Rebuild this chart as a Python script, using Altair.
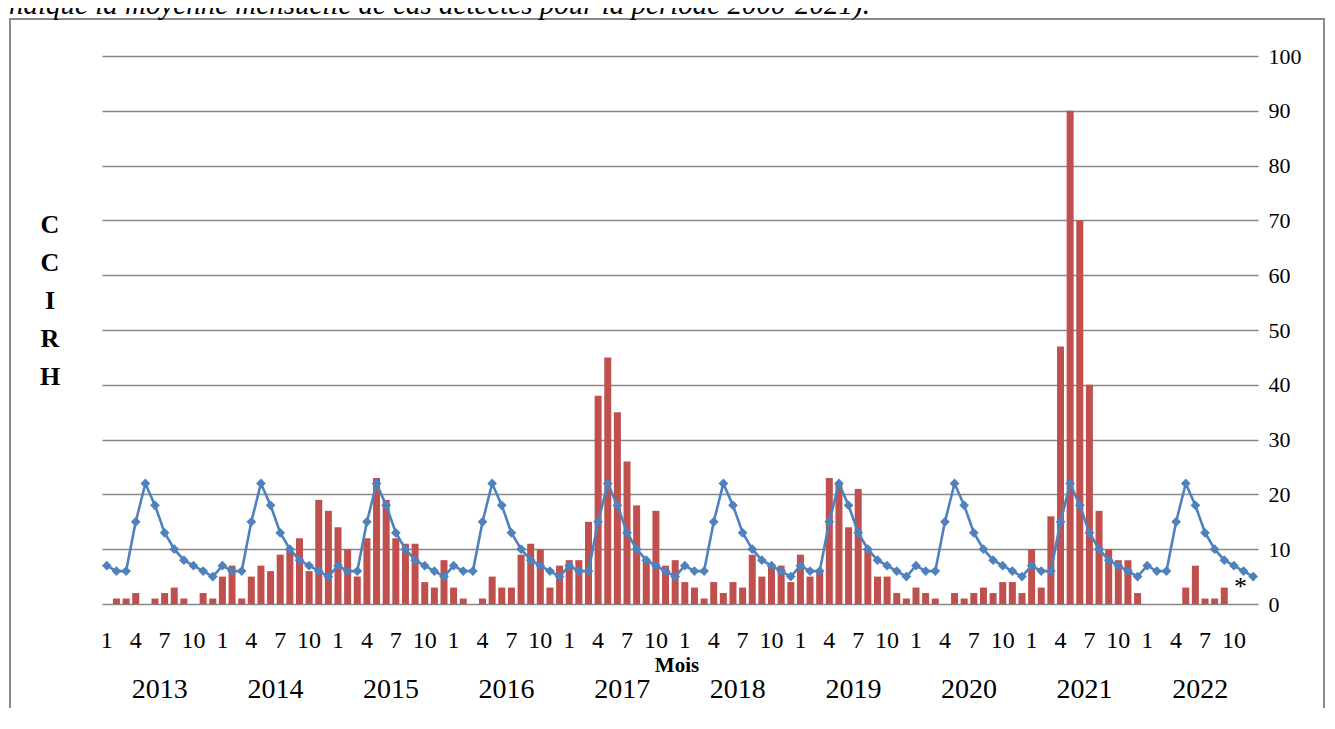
import altair as alt
import pandas as pd

# ---- data ----
years = [2013, 2014, 2015, 2016, 2017, 2018, 2019, 2020, 2021, 2022]
cases_2013 = [0, 1, 1, 2, 0, 1, 2, 3, 1, 0, 2, 1]
cases_2014 = [5, 7, 1, 5, 7, 6, 9, 10, 12, 6, 19, 17]
cases_2015 = [14, 10, 5, 12, 23, 19, 12, 11, 11, 4, 3, 8]
cases_2016 = [3, 1, 0, 1, 5, 3, 3, 9, 11, 10, 3, 7]
cases_2017 = [8, 8, 15, 38, 45, 35, 26, 18, 8, 17, 7, 8]
cases_2018 = [4, 3, 1, 4, 2, 4, 3, 9, 5, 7, 7, 4]
cases_2019 = [9, 5, 6, 23, 22, 14, 21, 10, 5, 5, 2, 1]
cases_2020 = [3, 2, 1, 0, 2, 1, 2, 3, 2, 4, 4, 2]
cases_2021 = [10, 3, 16, 47, 90, 70, 40, 17, 10, 8, 8, 2]
cases_2022 = [0, 0, 0, 0, 3, 7, 1, 1, 3, 0, 0, 0]
monthly_mean = [7, 6, 6, 15, 22, 18, 13, 10, 8, 7, 6, 5]
y_ticks = [0, 10, 20, 30, 40, 50, 60, 70, 80, 90, 100]
side_letters = ["C", "C", "I", "R", "H"]
x_title = "Mois"
caption = "indique la moyenne mensuelle de cas détectés pour la période 2000-2021)."
star_text = "*"

all_cases = [cases_2013, cases_2014, cases_2015, cases_2016, cases_2017,
             cases_2018, cases_2019, cases_2020, cases_2021, cases_2022]

rows = []
for yi, (yr, vals) in enumerate(zip(years, all_cases)):
    for m in range(12):
        rows.append({"i": yi * 12 + m, "year": yr, "month": m + 1,
                     "cases": vals[m], "mean": monthly_mean[m]})
df = pd.DataFrame(rows)
years_df = pd.DataFrame({"i": [k * 12 + 5 for k in range(len(years))],
                         "year": [str(y) for y in years]})
star_df = pd.DataFrame({"i": [118], "v": [1.6]})
one = pd.DataFrame({"k": [0]})

SERIF = "Liberation Serif"
W, H = 1156, 548

xscale = alt.Scale(paddingInner=0.275, paddingOuter=0.1375)
yscale = alt.Scale(domain=[0, 100], nice=False)
x_axis = alt.Axis(
    labelExpr="datum.value % 3 == 0 ? '' + (datum.value % 12 + 1) : ''",
    labelAngle=0, ticks=False, tickSize=0, domain=False, grid=False,
    labelFont=SERIF, labelFontSize=24, labelColor="black",
    labelPadding=24, labelOverlap=False, title=None,
)
y_axis = alt.Axis(orient="right", values=y_ticks, grid=True,
                  gridColor="#878787", gridWidth=1.6, domain=False,
                  ticks=False, labelFont=SERIF, labelFontSize=22,
                  labelColor="black", labelAlign="left",
                  labelPadding=10, title=None)


def X():
    return alt.X("i:O", scale=xscale, axis=x_axis)


bars = alt.Chart(df).mark_bar(color="#C0504D", width=7).encode(
    x=X(),
    y=alt.Y("cases:Q", scale=yscale, axis=y_axis),
)

line = alt.Chart(df).mark_line(color="#4F81BD", strokeWidth=2.6).encode(
    x=X(),
    y=alt.Y("mean:Q", scale=yscale, axis=y_axis),
)
pts = alt.Chart(df).mark_point(shape="diamond", filled=True, size=95,
                               color="#4F81BD", opacity=1).encode(
    x=X(),
    y=alt.Y("mean:Q", scale=yscale, axis=y_axis),
)

year_txt = alt.Chart(years_df).mark_text(
    font=SERIF, fontSize=28, color="black", dx=4.8, baseline="middle"
).encode(
    x=X(),
    y=alt.value(H + 86),
    text="year:N",
)

star = alt.Chart(star_df).mark_text(
    font=SERIF, fontSize=26, color="black", dx=-3, baseline="alphabetic"
).encode(
    x=X(),
    y=alt.Y("v:Q", scale=yscale, axis=y_axis),
    text=alt.value(star_text),
)

mois = alt.Chart(one).mark_text(
    font=SERIF, fontSize=21, fontWeight="bold", color="black", baseline="middle"
).encode(x=alt.value(575), y=alt.value(H + 62), text=alt.value(x_title))

letters = alt.Chart(one).mark_text(
    font=SERIF, fontSize=26, fontWeight="bold", color="black",
    baseline="middle", lineHeight=38
).encode(x=alt.value(-52), y=alt.value(169), text=alt.value(side_letters))

cap = alt.Chart(one).mark_text(
    font=SERIF, fontSize=29, fontStyle="italic", color="black",
    align="left", baseline="alphabetic"
).encode(x=alt.value(-101), y=alt.value(-42), text=alt.value(caption))

frame = alt.Chart(one).mark_rect(
    fillOpacity=0, stroke="#8a8a8a", strokeWidth=2
).encode(x=alt.value(-92), x2=alt.value(1222), y=alt.value(-37), y2=alt.value(720))

chart = alt.layer(frame, cap, bars, line, pts, year_txt, star, mois, letters).properties(
    width=W, height=H,
    autosize=alt.AutoSizeParams(type="none"),
    padding={"left": 94, "top": 48, "right": 68, "bottom": 104},
    background="white",
).configure_view(stroke=None)

chart.save("out.html", embed_options={"renderer": "svg", "actions": False})
